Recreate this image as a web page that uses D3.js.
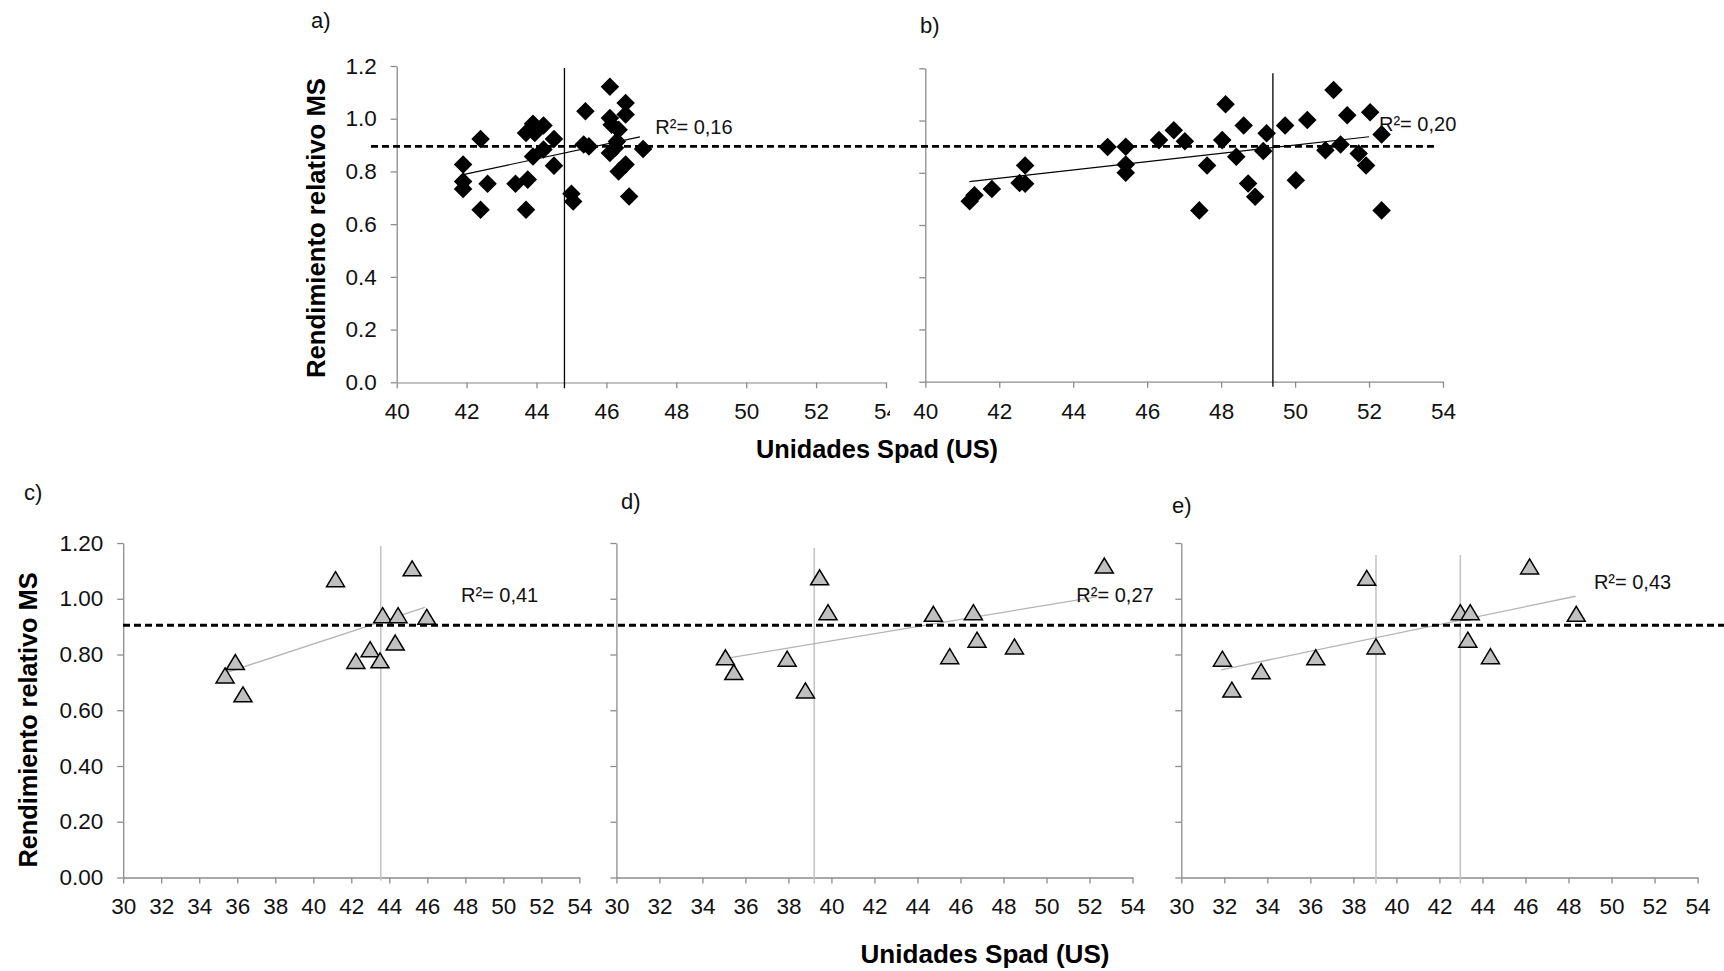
<!DOCTYPE html>
<html>
<head>
<meta charset="utf-8">
<script src="https://cdn.jsdelivr.net/npm/d3@7"></script>
<style>
body { margin: 0; background: #fff; }
svg { font-family: "Liberation Sans", Arial, sans-serif; }
</style>
</head>
<body>
<svg id="chart" width="1724" height="971"></svg>
<script>
// ---- data ----
const topXTicks = [40, 42, 44, 46, 48, 50, 52, 54];
const bottomXTicks = [30, 32, 34, 36, 38, 40, 42, 44, 46, 48, 50, 52, 54];
const yTicks = [0, 0.2, 0.4, 0.6, 0.8, 1.0, 1.2];

const pointsA = [
    [41.9, 0.826], [41.9, 0.762], [41.9, 0.733], [42.4, 0.923], [42.4, 0.655], [42.6, 0.753],
    [43.4, 0.753], [43.7, 0.946], [43.75, 0.769], [43.7, 0.655], [43.9, 0.981], [43.95, 0.946],
    [43.9, 0.857], [44.2, 0.974], [44.2, 0.883], [44.5, 0.923], [44.5, 0.822], [45.0, 0.715],
    [45.05, 0.686], [45.4, 1.028], [45.35, 0.902], [45.5, 0.895], [46.1, 1.121], [46.1, 1.003],
    [46.15, 0.977], [46.35, 0.958], [46.1, 0.870], [46.3, 0.914], [46.25, 0.89], [46.35, 0.800],
    [46.55, 1.060], [46.55, 1.016], [46.55, 0.826], [46.65, 0.705], [47.05, 0.885]
];
const pointsB = [
    [41.2, 0.691], [41.33, 0.714], [41.8, 0.738], [42.55, 0.761], [42.7, 0.828], [42.7, 0.758],
    [44.93, 0.899], [45.42, 0.90], [45.42, 0.832], [45.42, 0.80], [46.32, 0.925], [46.72, 0.963],
    [47.02, 0.921], [47.41, 0.656], [47.62, 0.828], [48.03, 0.925], [48.12, 1.062], [48.41, 0.861],
    [48.61, 0.981], [48.73, 0.759], [48.92, 0.708], [49.14, 0.883], [49.23, 0.951], [49.73, 0.981],
    [50.02, 0.771], [50.33, 1.002], [50.82, 0.886], [51.04, 1.117], [51.23, 0.908], [51.41, 1.02],
    [51.72, 0.874], [51.92, 0.828], [52.03, 1.032], [52.34, 0.947], [52.34, 0.656]
];
const pointsC = [
    [35.36, 0.725], [35.9, 0.773], [36.3, 0.657], [41.17, 1.07], [42.24, 0.777], [42.99, 0.819],
    [43.51, 0.779], [43.65, 0.941], [44.46, 0.941], [44.31, 0.843], [45.2, 1.109], [45.97, 0.935]
];
const pointsD = [
    [35.07, 0.79], [35.46, 0.737], [37.94, 0.785], [38.79, 0.671], [39.45, 1.077], [39.84, 0.952],
    [44.74, 0.946], [45.5, 0.794], [46.6, 0.952], [46.77, 0.853], [48.51, 0.829], [52.69, 1.119]
];
const pointsE = [
    [31.91, 0.785], [32.35, 0.674], [33.71, 0.74], [36.25, 0.79], [38.62, 1.075], [39.05, 0.829],
    [42.97, 0.952], [43.43, 0.952], [43.32, 0.853], [44.37, 0.794], [46.19, 1.116], [48.36, 0.946]
];

const trendA = [[41.9, 0.788], [46.96, 0.931]];
const trendB = [[41.19, 0.766], [52.0, 0.938]];
const trendC = [[35.5, 0.737], [45.87, 0.969]];
const trendD = [[35.24, 0.788], [52.32, 1.007]];
const trendE = [[31.85, 0.745], [48.33, 1.009]];

const vlinesA = [44.8];
const vlinesB = [49.4];
const vlinesC = [43.55];
const vlinesD = [39.2];
const vlinesE = [39.05, 42.97];

const r2Text = ["R²= 0,16", "R²= 0,20", "R²= 0,41", "R²= 0,27", "R²= 0,43"];
const r2Pos = [[47.4, 0.968], [52.27, 0.985], [47.77, 1.013], [51.39, 1.013], [49.18, 1.061]];

const thresholdTop = 0.895;
const thresholdBottom = 0.905;

const panelNames = ["a)", "b)", "c)", "d)", "e)"];
const yTitle = "Rendimiento relativo MS";
const xTitle = "Unidades Spad (US)";

// ---- layout ----
const svg = d3.select('#chart');
const axisColor = '#8c8c8c';

const panels = [
    { name: panelNames[0], pts: pointsA, trend: trendA, vlines: vlinesA, xl: 396.7, xr: 886, yb: 382.3, yt: 66,
      xdom: [40, 54], xticks: topXTicks, fmt: '.1f', showY: true, marker: 'diamond', label: [311, 28], clip: 890, vext: [2, 6] },
    { name: panelNames[1], pts: pointsB, trend: trendB, vlines: vlinesB, xl: 925.3, xr: 1443, yb: 381.7, yt: 68.3,
      xdom: [40, 54], xticks: topXTicks, fmt: '.1f', showY: false, marker: 'diamond', label: [920, 33], vext: [5, 5] },
    { name: panelNames[2], pts: pointsC, trend: trendC, vlines: vlinesC, xl: 123.2, xr: 579.4, yb: 877.5, yt: 543,
      xdom: [30, 54], xticks: bottomXTicks, fmt: '.2f', showY: true, marker: 'triangle', label: [24, 500], vext: [3, 3] },
    { name: panelNames[3], pts: pointsD, trend: trendD, vlines: vlinesD, xl: 616.4, xr: 1132.5, yb: 877.5, yt: 543,
      xdom: [30, 54], xticks: bottomXTicks, fmt: '.2f', showY: false, marker: 'triangle', label: [621, 509], vext: [5, 6] },
    { name: panelNames[4], pts: pointsE, trend: trendE, vlines: vlinesE, xl: 1181.3, xr: 1697.6, yb: 877.5, yt: 543,
      xdom: [30, 54], xticks: bottomXTicks, fmt: '.2f', showY: false, marker: 'triangle', label: [1172, 513], vext: [12, 6] }
];

svg.append('clipPath').attr('id', 'clipA')
    .append('rect').attr('x', 0).attr('y', 0).attr('width', 890).attr('height', 971);

const trianglePath = 'M0,-7.5L9,7.5L-9,7.5Z';
const scales = [];

panels.forEach(function(p, i) {
    const x = d3.scaleLinear().domain(p.xdom).range([p.xl, p.xr]);
    const y = d3.scaleLinear().domain([0, 1.2]).range([p.yb, p.yt]);
    scales.push({ x: x, y: y });
    const g = svg.append('g').attr('class', 'panel');

    // y axis
    const yAxis = g.append('g')
        .attr('transform', `translate(${p.xl},0)`)
        .call(d3.axisLeft(y)
            .tickValues(yTicks)
            .tickSize(6)
            .tickSizeOuter(0)
            .tickPadding(14)
            .tickFormat(p.showY ? d3.format(p.fmt) : () => ''));

    // x axis
    const xAxis = g.append('g')
        .attr('transform', `translate(0,${p.yb})`)
        .call(d3.axisBottom(x)
            .tickValues(p.xticks)
            .tickSize(6)
            .tickSizeOuter(0)
            .tickPadding(15));
    if (p.clip) xAxis.attr('clip-path', 'url(#clipA)');

    [yAxis, xAxis].forEach(function(a) {
        a.selectAll('path, line').attr('stroke', axisColor).attr('stroke-width', 1.3);
        a.selectAll('text').attr('fill', '#111').style('font-size', '22.5px');
    });

    // panel letter
    svg.append('text')
        .attr('x', p.label[0]).attr('y', p.label[1])
        .style('font-size', '22px').attr('fill', '#111')
        .text(p.name);

    const top = i < 2;

    // vertical reference lines
    g.selectAll('.vline')
        .data(p.vlines)
        .enter()
        .append('line')
        .attr('x1', d => x(d)).attr('x2', d => x(d))
        .attr('y1', y(1.2) + p.vext[0]).attr('y2', y(0) + p.vext[1])
        .attr('stroke', top ? '#000' : '#c4c4c4')
        .attr('stroke-width', top ? 1.3 : 1.6);

    // trend line
    g.append('path')
        .datum(p.trend)
        .attr('fill', 'none')
        .attr('stroke', top ? '#000' : '#b4b4b4')
        .attr('stroke-width', top ? 1.1 : 1.3)
        .attr('d', d3.line().x(d => x(d[0])).y(d => y(d[1])));

    // markers
    if (p.marker === 'diamond') {
        g.selectAll('.pt')
            .data(p.pts)
            .enter()
            .append('path')
            .attr('d', d3.symbol(d3.symbolSquare, 172))
            .attr('transform', d => `translate(${x(d[0])},${y(d[1])}) rotate(45)`)
            .attr('fill', '#000');
    } else {
        g.selectAll('.pt')
            .data(p.pts)
            .enter()
            .append('path')
            .attr('d', trianglePath)
            .attr('transform', d => `translate(${x(d[0])},${y(d[1])})`)
            .attr('fill', '#c0c0c0')
            .attr('stroke', '#000')
            .attr('stroke-width', 1.5)
            .attr('stroke-linejoin', 'miter');
    }

    // R² label
    g.append('text')
        .attr('x', x(r2Pos[i][0]))
        .attr('y', y(r2Pos[i][1]))
        .attr('dy', '0.35em')
        .style('font-size', '20px')
        .attr('fill', '#111')
        .text(r2Text[i]);
});

// dashed threshold lines
svg.append('line')
    .attr('x1', 371).attr('x2', 1436)
    .attr('y1', scales[0].y(thresholdTop)).attr('y2', scales[0].y(thresholdTop))
    .attr('stroke', '#000').attr('stroke-width', 2.8).attr('stroke-dasharray', '7,4');

svg.append('line')
    .attr('x1', 123).attr('x2', 1724)
    .attr('y1', scales[2].y(thresholdBottom)).attr('y2', scales[2].y(thresholdBottom))
    .attr('stroke', '#000').attr('stroke-width', 2.8).attr('stroke-dasharray', '7,4');

// axis titles
function yLabel(cx, cy, len) {
    svg.append('text')
        .attr('transform', `translate(${cx},${cy}) rotate(-90)`)
        .attr('text-anchor', 'middle')
        .attr('dy', '0.35em')
        .attr('textLength', len)
        .attr('lengthAdjust', 'spacingAndGlyphs')
        .style('font-size', '25px')
        .style('font-weight', 'bold')
        .attr('fill', '#000')
        .text(yTitle);
}
yLabel(316, 228, 300);
yLabel(28, 720, 295);

function xLabel(cx, by, len) {
    svg.append('text')
        .attr('x', cx).attr('y', by)
        .attr('text-anchor', 'middle')
        .attr('textLength', len)
        .attr('lengthAdjust', 'spacingAndGlyphs')
        .style('font-size', '25px')
        .style('font-weight', 'bold')
        .attr('fill', '#000')
        .text(xTitle);
}
xLabel(877, 458, 242);
xLabel(985, 963, 249);
</script>
</body>
</html>
